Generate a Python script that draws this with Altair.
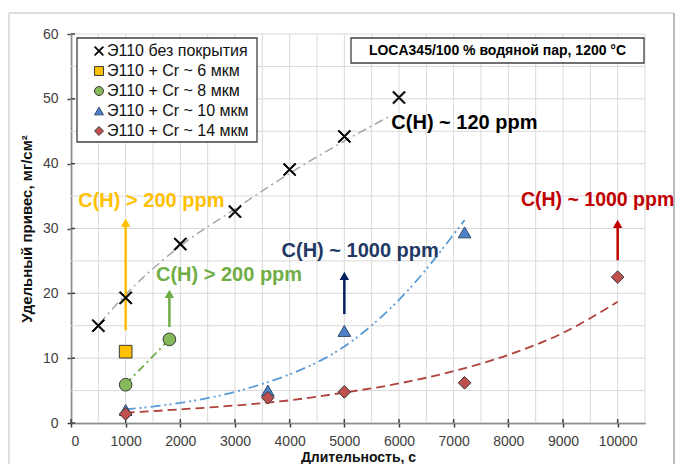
import altair as alt
import pandas as pd

# ---------------- data ----------------
series_names = ["Э110 без покрытия", "Э110 + Cr ~ 6 мкм", "Э110 + Cr ~ 8 мкм",
                "Э110 + Cr ~ 10 мкм", "Э110 + Cr ~ 14 мкм"]

x_bare = [500, 1000, 2000, 3000, 4000, 5000, 6000]
y_bare = [15.0, 19.3, 27.6, 32.6, 39.1, 44.2, 50.2]
x_cr6 = [1000]
y_cr6 = [11.0]
x_cr8 = [1000, 1800]
y_cr8 = [5.9, 12.9]
x_cr10 = [1000, 3600, 5000, 7200]
y_cr10 = [2.0, 5.0, 14.2, 29.4]
x_cr14 = [1000, 3600, 5000, 7200, 10000]
y_cr14 = [1.4, 3.9, 4.8, 6.2, 22.5]

# trend lines
tr_bare_x = [520, 1000, 2000, 3000, 4000, 5000, 5850]
tr_bare_y = [15.3, 19.8, 27.3, 33.0, 38.5, 43.5, 47.4]
tr_cr8_x = [1000, 1800]
tr_cr8_y = [6.0, 12.9]
tr_cr10_x = [1000, 2000, 3000, 3600, 4000, 5000, 6000, 7200]
tr_cr10_y = [2.1, 3.1, 4.8, 6.3, 7.5, 11.8, 19.0, 31.3]
tr_cr14_x = [1000, 2000, 3000, 4000, 5000, 6000, 7000, 8000, 9000, 10000]
tr_cr14_y = [1.6, 2.1, 2.7, 3.5, 4.7, 6.1, 8.0, 10.5, 13.9, 18.7]

# arrows
arrow_x = [1000, 1800, 5000, 10000]
arrow_lo = [14.3, 14.8, 16.8, 25.1]
arrow_hi = [31.7, 20.7, 23.5, 31.5]
arrow_colors = ["#FFC000", "#70AD47", "#002060", "#C00000"]

# annotation labels
label_text = ["C(H) ~ 120 ppm", "C(H) > 200 ppm", "C(H) > 200 ppm",
              "C(H) ~ 1000 ppm", "C(H) ~ 1000 ppm"]
label_x = [5860, 133, 1554, 3852, 8230]
label_y = [46.3, 34.3, 22.8, 26.6, 34.4]
label_sizes = [20, 20, 20, 20, 19.5]
label_colors = ["#000000", "#FFC000", "#70AD47", "#1F3864", "#C00000"]

grid_x = list(range(0, 10501, 500))
grid_y = list(range(0, 61, 5))
tick_x = list(range(0, 10001, 1000))
tick_y = list(range(0, 61, 10))

info_text = "LOCA345/100 % водяной пар, 1200 °C"

# ---------------- styling ----------------
FONT = "Liberation Sans"
W, H = 574, 389
X_CROSS = ("M-1,-0.85L-0.85,-1L0,-0.15L0.85,-1L1,-0.85L0.15,0L1,0.85L0.85,1"
           "L0,0.15L-0.85,1L-1,0.85L-0.15,0Z")
shape_range = [X_CROSS, "square", "circle", "triangle-up", "diamond"]
fill_range = ["#000000", "#FFC000", "#86B95A", "#4F81C8", "#C0504D"]
stroke_range = ["#000000", "#3A3A3A", "#3A3A3A", "#2F4A70", "#3A3A3A"]

xscale = alt.Scale(domain=[0, 10500], nice=False, zero=False)
yscale = alt.Scale(domain=[0, 60], nice=False)
xaxis = alt.Axis(values=tick_x, title="Длительность, с", grid=False, format="d",
                 tickSize=4, labelPadding=7, titleY=38, titleBaseline="alphabetic",
                 titleFontSize=14)
yaxis = alt.Axis(values=tick_y, title="Удельный привес, мг/см²", grid=False,
                 tickSize=4, labelPadding=9, titlePadding=8)


def X(field="t"):
    return alt.X(f"{field}:Q", scale=xscale, axis=xaxis)


def Y(field="w"):
    return alt.Y(f"{field}:Q", scale=yscale, axis=yaxis)


one = alt.Data(values=[{}])

# grid
gx = alt.Chart(pd.DataFrame({"t": grid_x})).mark_rule(color="#D9D9D9", strokeWidth=1).encode(
    x=X(), y=alt.value(0), y2=alt.value(H))
gy = alt.Chart(pd.DataFrame({"w": grid_y})).mark_rule(color="#D9D9D9", strokeWidth=1).encode(
    y=Y(), x=alt.value(0), x2=alt.value(W))

# inner halves of the crossing tick marks
tix = alt.Chart(pd.DataFrame({"t": tick_x})).mark_rule(color="#404040", strokeWidth=1.5).encode(
    x=X(), y=alt.value(H - 4), y2=alt.value(H))
tiy = alt.Chart(pd.DataFrame({"w": tick_y})).mark_rule(color="#404040", strokeWidth=1.5).encode(
    y=Y(), x=alt.value(0), x2=alt.value(4))

# outer frame (thin gray border of the picture)
frame_l = alt.Chart(one).mark_rule(color="#BFBFBF", strokeWidth=1).encode(
    x=alt.value(-62), y=alt.value(-21), y2=alt.value(445))
frame_t = alt.Chart(one).mark_rule(color="#BFBFBF", strokeWidth=1).encode(
    x=alt.value(-62), x2=alt.value(603), y=alt.value(-21))
frame_r = alt.Chart(one).mark_rule(color="#A6A6A6", strokeWidth=1.5).encode(
    x=alt.value(603), y=alt.value(-21), y2=alt.value(445))

# legend box & info box
leg_box = alt.Chart(one).mark_rect(fill="white", stroke="#404040", strokeWidth=1.3).encode(
    x=alt.value(6), x2=alt.value(186), y=alt.value(4), y2=alt.value(108))
info_box = alt.Chart(one).mark_rect(fill="white", stroke="#404040", strokeWidth=1.3).encode(
    x=alt.value(280), x2=alt.value(573), y=alt.value(4), y2=alt.value(29))
info_lbl = alt.Chart(one).mark_text(font=FONT, fontSize=14, fontWeight="bold", color="#000",
                                   align="center", baseline="middle").encode(
    x=alt.value(426.5), y=alt.value(16.5), text=alt.value(info_text))


def trend(xs, ys, color, dash, width=1.8):
    return alt.Chart(pd.DataFrame({"t": xs, "w": ys})).mark_line(
        color=color, strokeDash=dash, strokeWidth=width, interpolate="monotone").encode(
        x=X(), y=Y())


t_bare = trend(tr_bare_x, tr_bare_y, "#A6A6A6", [9, 4, 2, 4], 1.5)
t_cr8 = trend(tr_cr8_x, tr_cr8_y, "#70AD47", [8, 4, 2, 4])
t_cr10 = trend(tr_cr10_x, tr_cr10_y, "#5B9BD5", [10, 4, 2, 3, 2, 4])
t_cr14 = trend(tr_cr14_x, tr_cr14_y, "#B0413E", [9, 5])

# arrows
arr_df = pd.DataFrame({"t": arrow_x, "w": arrow_lo, "w2": [h - 1.3 for h in arrow_hi],
                       "wh": [h - 0.8 for h in arrow_hi], "c": arrow_colors})
arr_shaft = alt.Chart(arr_df).mark_rule(strokeWidth=2.5).encode(
    x=X(), y=Y(), y2="w2:Q", color=alt.Color("c:N", scale=None))
arr_head = alt.Chart(arr_df).mark_point(shape="triangle-up", filled=True, size=90, opacity=1).encode(
    x=X(), y=Y("wh"), color=alt.Color("c:N", scale=None))

# markers
rows = []
for name, xs, ys in zip(series_names, [x_bare, x_cr6, x_cr8, x_cr10, x_cr14],
                        [y_bare, y_cr6, y_cr8, y_cr10, y_cr14]):
    for a, b in zip(xs, ys):
        rows.append({"t": a, "w": b, "s": name})
mk_df = pd.DataFrame(rows)

legend = alt.Legend(orient="none", legendX=16, legendY=5, title=None,
                    labelFont=FONT, labelFontSize=16, labelColor="#111",
                    symbolSize=80, symbolStrokeWidth=1, rowPadding=4, padding=4,
                    labelOffset=0)
markers = alt.Chart(mk_df).mark_point(filled=True, opacity=1, size=160, strokeWidth=1).encode(
    x=X(), y=Y(),
    shape=alt.Shape("s:N", scale=alt.Scale(domain=series_names, range=shape_range), legend=legend),
    fill=alt.Fill("s:N", scale=alt.Scale(domain=series_names, range=fill_range), legend=legend),
    stroke=alt.Stroke("s:N", scale=alt.Scale(domain=series_names, range=stroke_range), legend=legend),
)

# annotation texts
lab_df = pd.DataFrame({"t": label_x, "w": label_y, "txt": label_text,
                       "c": label_colors, "fs": label_sizes})
labels = alt.Chart(lab_df).mark_text(font=FONT, fontWeight="bold",
                                     align="left", baseline="middle").encode(
    x=X(), y=Y(), text="txt:N", color=alt.Color("c:N", scale=None),
    size=alt.Size("fs:Q", scale=None))

chart = alt.layer(
    gx, gy, frame_l, frame_t, frame_r, leg_box, info_box, info_lbl,
    t_bare, t_cr8, t_cr10, t_cr14, arr_shaft, arr_head, tix, tiy, markers, labels
).properties(
    width=W, height=H,
    autosize=alt.AutoSizeParams(type="none"),
    padding={"left": 63, "top": 26, "right": 34, "bottom": 41},
).configure_view(stroke=None).configure_axis(
    labelFont=FONT, labelFontSize=14, labelColor="#404040",
    titleFont=FONT, titleFontSize=15, titleFontWeight="bold", titleColor="#111",
    domainColor="#404040", domainWidth=1.5, tickColor="#404040", tickWidth=1.5,
)

chart.save("out.html", embed_options={"renderer": "svg", "actions": False})
